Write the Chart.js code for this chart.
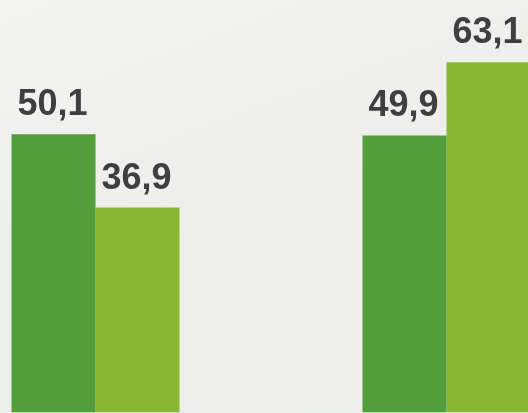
<!DOCTYPE html>
<html>
<head>
<meta charset="utf-8">
<script src="https://cdn.jsdelivr.net/npm/chart.js@4/dist/chart.umd.min.js"></script>
<style>
  html, body { margin: 0; padding: 0; }
  body {
    width: 528px; height: 413px; overflow: hidden; position: relative;
    background: linear-gradient(160deg, #f3f4f2 0%, #eeefed 45%, #eceeeb 100%);
  }
  #wrap { position: absolute; left: -80px; top: 2px; width: 702px; height: 413px; }
</style>
</head>
<body>
<div id="wrap"><canvas id="barChart" width="702" height="413"></canvas></div>
<script>
/* datos */
var categorias = ['Grupo 1', 'Grupo 2'];
var serieA = [50.1, 49.9];
var serieB = [36.9, 63.1];

/* etiquetas con coma decimal encima de cada barra */
var etiquetas = {
  id: 'etiquetas',
  afterDatasetsDraw: function(chart) {
    var ctx = chart.ctx;
    ctx.save();
    ctx.font = 'bold 36px "Liberation Sans", Arial, sans-serif';
    ctx.fillStyle = '#3f3f3f';
    ctx.textAlign = 'center';
    ctx.textBaseline = 'alphabetic';
    chart.data.datasets.forEach(function(ds, i) {
      chart.getDatasetMeta(i).data.forEach(function(bar, j) {
        var txt = ds.data[j].toFixed(1).replace('.', ',');
        ctx.fillText(txt, bar.x - 1, bar.y - 19);
      });
    });
    ctx.restore();
  }
};

var barChart = new Chart(document.getElementById('barChart'), {
  type: 'bar',
  data: {
    labels: categorias,
    datasets: [{
      label: 'A',
      data: serieA,
      backgroundColor: '#529e3a',
      borderWidth: 0
    }, {
      label: 'B',
      data: serieB,
      backgroundColor: '#8ab733',
      borderWidth: 0
    }]
  },
  options: {
    responsive: false,
    animation: false,
    devicePixelRatio: 1,
    layout: { padding: 0 },
    datasets: {
      bar: { categoryPercentage: 0.4786, barPercentage: 1 }
    },
    scales: {
      x: { display: false },
      y: { display: false, min: -0.48, max: 73.94 }
    },
    plugins: {
      legend: { display: false },
      tooltip: { enabled: false }
    }
  },
  plugins: [etiquetas]
});
</script>
</body>
</html>
